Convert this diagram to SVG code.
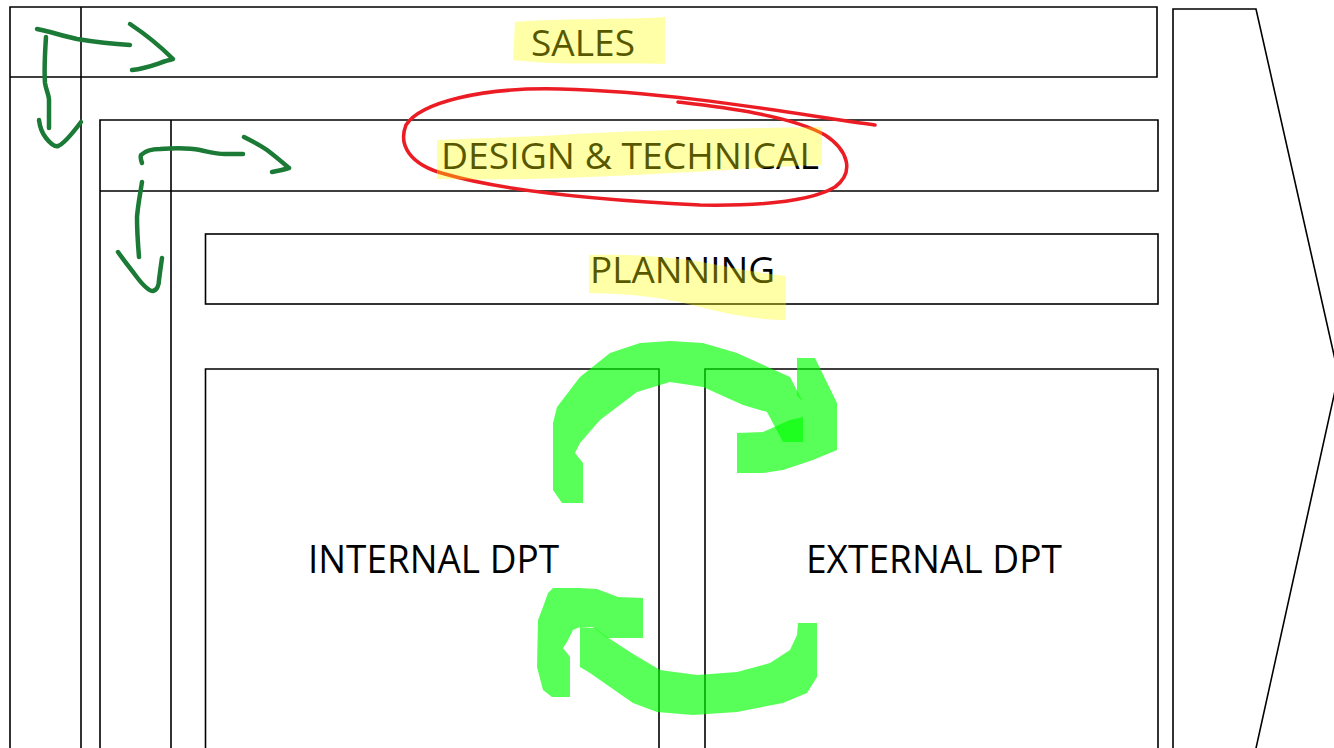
<svg xmlns="http://www.w3.org/2000/svg" width="1334" height="748" viewBox="0 0 1334 748">
<style>
.box{fill:none;stroke:#000;stroke-width:1.6}
.lbl{font-family:"Open Sans","Noto Sans",sans-serif;fill:#000;lengthAdjust:spacingAndGlyphs}
.hl{fill:#ffff00;fill-opacity:0.34}
.pen{fill:none;stroke:#1b7a36;stroke-width:4.5;stroke-linecap:round;stroke-linejoin:round}
.red{fill:none;stroke:#ec1c24;stroke-width:3.5;stroke-linecap:round;stroke-linejoin:round}
.marker{fill:#00ff00;fill-opacity:0.65}
</style>
<rect width="1334" height="748" fill="#fff"/>
<g id="sales">
  <path class="box" d="M10 770 V7 H1157 V77 H10 M81 7 V770"/>
  <text class="lbl" x="531" y="56" font-size="37" textLength="104" lengthAdjust="spacingAndGlyphs">SALES</text>
</g>
<g id="design">
  <path class="box" d="M100 770 V120 H1158 V191 H100 M171 120 V770"/>
  <text class="lbl" x="441" y="169" font-size="37" textLength="378" lengthAdjust="spacingAndGlyphs">DESIGN &amp; TECHNICAL</text>
</g>
<g id="planning">
  <rect class="box" x="205.5" y="234" width="952.5" height="70"/>
  <text class="lbl" x="590" y="283" font-size="37" textLength="185" lengthAdjust="spacingAndGlyphs">PLANNING</text>
</g>
<g id="internal">
  <path class="box" d="M205.5 770 V369 H659 V770"/>
  <text class="lbl" x="308" y="573" font-size="38" textLength="251" lengthAdjust="spacingAndGlyphs">INTERNAL DPT</text>
</g>
<g id="external">
  <path class="box" d="M705 770 V369 H1158 V770"/>
  <text class="lbl" x="806" y="573" font-size="38" textLength="256" lengthAdjust="spacingAndGlyphs">EXTERNAL DPT</text>
</g>
<g id="chevron">
  <polygon class="box" points="1173,9 1256,9 1338.5,375 1253.4,760 1173,760"/>
</g>
<g id="annotation-red">
  <path class="red" d="M875 125 C800 115,680 92,560 89 C480 87,420 103,406 125 C398 145,410 165,445 174 C500 190,600 200,700 205 C760 206,810 202,835 187 C855 172,848 150,825 135 C790 115,720 107,678 102"/>
</g>
<g id="highlights">
  <path class="hl" d="M515 22 C560 18,620 20,665 17 L665 64 C620 62,560 66,513 60 Z"/>
  <path class="hl" d="M437 140 C480 138,523 137,560 135 C620 131,700 129,822 127 L822 165 C790 166,757 168,690 172 C650 174,620 176,590 177 C540 179,490 180,437 179 Z"/>
  <path class="hl" d="M589 255 C620 254,650 255,690 260 C720 265,750 272,786 276 L786 320 C760 320,730 315,700 307 C670 299,640 294,589 293 Z"/>
</g>
<g id="connectors">
  <path class="pen" d="M37 29 C42 30,46 31,50 32 C60 35,68 37,77 39 C95 42,112 44,130 45"/>
  <path class="pen" d="M130 24 C145 34,160 46,173 59 C160 62,150 68,132 70"/>
  <path class="pen" d="M46 37 C45 52,44 70,45 83 C46 90,49 95,49 100 C49 110,49 120,49 128"/>
  <path class="pen" d="M39 120 C40 128,42 133,46 138 C50 143,55 147,58 146 C64 144,72 134,81 122"/>
  <path class="pen" d="M142 163 C141 160,140 157,141 155 C145 151,150 149,160 149 C175 148,190 148,200 150 C210 152,215 154,225 154 C232 154,238 154,243 154"/>
  <path class="pen" d="M244 137 C252 141,260 145,267 150 C275 156,282 162,289 168 C283 170,278 171,272 172"/>
  <path class="pen" d="M142 182 C140 195,138 205,137 217 C137 232,138 245,139 257"/>
  <path class="pen" d="M118 252 C125 262,130 268,136 276 C142 284,148 291,153 291 C157 290,159 285,159 280 C160 272,161 265,162 258"/>
  <path class="marker" d="M562 503 L553 490 L553 423 L557 407 L580 377 L610 353 L640 343 L670 341 L703 343 L737 353 L770 368 L790 377 L803 402 L803 442 L783 442 L767 412 L743 405 L703 387 L670 382 L637 392 L600 420 L580 443 L575 453 L583 463 L583 503 Z"/>
  <path class="marker" d="M797 358 L815 358 L837 403 L837 450 L813 460 L783 470 L763 473 L737 473 L737 433 L763 432 L790 420 L803 417 L803 402 L797 395 Z"/>
  <path class="marker" d="M553 588 L548 593 L543 607 L538 620 L537 667 L543 690 L552 697 L570 697 L570 657 L563 648 L567 642 L573 630 L580 627 L593 627 L607 638 L643 638 L643 598 L618 597 L597 589 L580 588 Z"/>
  <path class="marker" d="M580 627 L595 628 L607 637 L630 652 L660 670 L697 675 L737 672 L770 663 L790 650 L797 635 L798 623 L817 623 L817 677 L807 693 L783 703 L737 712 L693 715 L657 712 L633 703 L610 687 L590 673 L580 667 Z"/>
</g>
</svg>
